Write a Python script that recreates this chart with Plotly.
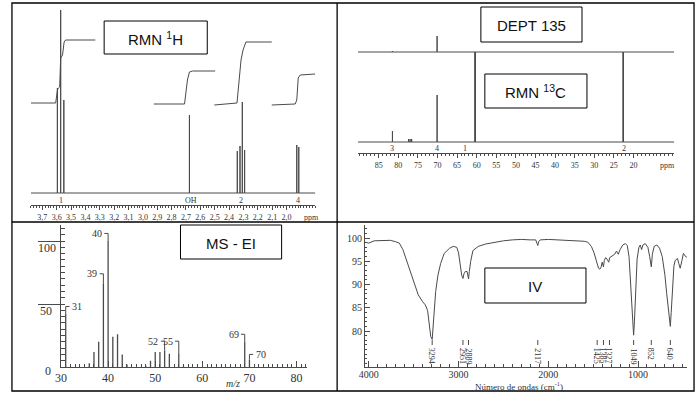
import plotly.graph_objects as go

W, H = 698, 396
SERIF = "Liberation Serif, Times New Roman, serif"
SANS = "Liberation Sans, Arial, sans-serif"
LINE = "#4a4a4a"
TXT = "#333333"

# ---------------- 1H NMR ----------------
h1_peak_ppm = [3.595, 3.572, 3.550, 2.676, 2.343, 2.324, 2.308, 2.292, 1.929, 1.915]
h1_peak_int = [105, 183, 93, 78, 42, 47, 91, 43, 48, 46]
h1_int1_ppm = [3.78, 3.607, 3.593, 3.579, 3.572, 3.559, 3.548, 3.538, 3.331]
h1_int1_val = [90, 90, 104, 106, 135, 138, 151, 153, 153]
h1_int2_ppm = [2.924, 2.710, 2.690, 2.676, 2.655, 2.497]
h1_int2_val = [89, 89, 113, 121, 122, 122]
h1_int3_ppm = [2.503, 2.345, 2.317, 2.303, 2.283, 2.103]
h1_int3_val = [88, 90, 133, 143, 151, 151]
h1_int4_ppm = [2.103, 1.940, 1.929, 1.919, 1.905, 1.802]
h1_int4_val = [88, 89, 93, 115, 118, 119]
h1_labels = ["1", "OH", "2", "4"]
h1_label_ppm = [3.572, 2.667, 2.318, 1.918]
h1_tick_vals = [3.7, 3.6, 3.5, 3.4, 3.3, 3.2, 3.1, 3.0, 2.9, 2.8, 2.7, 2.6, 2.5, 2.4, 2.3, 2.2, 2.1, 2.0]
h1_tick_text = ["3,7", "3,6", "3,5", "3,4", "3,3", "3,2", "3,1", "3,0", "2,9", "2,8",
                "2,7", "2,6", "2,5", "2,4", "2,3", "2,2", "2,1", "2,0"]
h1_range = [3.78, 1.80]

# ---------------- 13C / DEPT ----------------
c13_ppm = [81.5, 77.4, 77.0, 76.6, 70.1, 60.4, 22.6]
c13_int = [11, 3, 3, 3, 47, 90, 90]
dept_ppm = [81.5, 70.1, 60.4, 22.6]
dept_int = [1, 16, -90, -90]
dept_offset = 90
c13_labels = ["3", "4", "1", "2"]
c13_label_ppm = [81.7, 70.1, 63.0, 22.3]
c13_tick_vals = [85, 80, 75, 70, 65, 60, 55, 50, 45, 40, 35, 30, 25, 20]
c13_tick_text = [str(v) for v in c13_tick_vals]
c13_range = [90.3, 9.6]

# ---------------- MS ----------------
ms_mz = [31, 36, 37, 38, 39, 40, 41, 42, 43, 44, 48, 49, 50, 51, 52, 53, 55, 56, 69, 70]
ms_int = [42, 3, 12, 20, 66, 100, 24, 26, 10, 2, 1, 5, 12, 12, 13, 10.5, 11, 1, 20, 6]
ms_lab_mz = [31, 39, 40, 52, 55, 69, 70]
ms_lab_side = ["r", "l", "l", "l", "l", "l", "r"]
ms_lab_top = [48, 74, 106, 20.5, 20.5, 26, 10]
ms_tick_vals = [30, 40, 50, 60, 70, 80]

# ---------------- IR ----------------
ir_wn = [4040, 4000, 3940, 3850, 3760, 3700, 3660, 3620, 3600, 3550, 3500, 3450, 3400, 3370,
         3345, 3325, 3310, 3294, 3285, 3270, 3255, 3230, 3200, 3160, 3100, 3060, 3020, 3000,
         2980, 2965, 2951, 2940, 2925, 2905, 2895, 2889, 2880, 2865, 2840, 2780, 2700, 2600,
         2500, 2400, 2300, 2200, 2140, 2125, 2117, 2108, 2090, 2000, 1900, 1800, 1700, 1600,
         1560, 1520, 1490, 1460, 1440, 1425, 1410, 1400, 1385, 1375, 1360, 1340, 1327, 1315,
         1290, 1260, 1240, 1220, 1200, 1170, 1140, 1120, 1100, 1080, 1060, 1049, 1040, 1025,
         1010, 990, 975, 960, 945, 920, 890, 870, 852, 840, 820, 790, 760, 730, 700, 680, 660,
         645, 640, 630, 615, 600, 585, 560, 545, 530, 510, 494, 485, 470, 456]
ir_T = [99.1, 98.9, 99.4, 99.5, 99.5, 99.2, 98.9, 97.5, 96.3, 93.5, 90.5, 87.8, 86.3, 85.6,
        84.4, 81.5, 78.8, 78.2, 80.5, 85.0, 88.5, 92.0, 94.5, 96.7, 97.8, 98.2, 98.0, 96.8,
        94.0, 92.0, 91.3, 92.3, 92.8, 92.8, 91.8, 91.2, 92.8, 95.0, 97.3, 98.2, 98.7, 99.1,
        99.4, 99.6, 99.7, 99.6, 99.6, 98.8, 98.4, 99.2, 99.6, 99.7, 99.6, 99.6, 99.5, 99.3,
        99.1, 98.2, 96.8, 94.8, 93.5, 93.3, 93.8, 94.8, 93.8, 95.2, 95.8, 95.3, 94.8, 95.8,
        96.2, 96.5, 97.2, 96.5, 97.5, 98.5, 98.8, 98.4, 96.0, 90.0, 82.0, 79.1, 82.0, 90.0,
        95.5, 98.0, 98.5, 97.5, 98.5, 98.8, 98.0, 96.0, 93.8, 96.5, 98.2, 98.5, 97.8, 96.0,
        92.0, 88.0, 84.0, 81.3, 81.0, 84.0, 90.0, 94.0, 95.2, 95.6, 94.5, 93.5, 95.2, 96.7,
        96.5, 96.0, 95.9]
ir_lab = [3294, 2951, 2889, 2117, 1425, 1385, 1327, 1049, 852, 640]
ir_lab_pos = [3294, 2951, 2889, 2117, 1455, 1385, 1318, 1049, 852, 640]
ir_tick_vals = [4000, 3000, 2000, 1000]
ir_ytick_vals = [80, 85, 90, 95, 100]


def fx(p):
    return p / W


def fy(p):
    return 1 - p / H


def stick_path(xs, hs, x0, x1, base=0.0):
    X, Y = [x0], [base]
    for x, h in sorted(zip(xs, hs), key=lambda t: -t[0]):
        X += [x, x, x]
        Y += [base, base + h, base]
    X.append(x1)
    Y.append(base)
    return X, Y


def ptext(txt, xp, yp, size, family=SERIF, color=TXT, **kw):
    d = dict(x=fx(xp), y=fy(yp), xref="paper", yref="paper", text=txt, showarrow=False,
             xanchor="center", yanchor="middle", font=dict(family=family, size=size, color=color))
    d.update(kw)
    return d


fig = go.Figure()
lw = dict(color=LINE, width=1)

# 1H
X, Y = stick_path(h1_peak_ppm, h1_peak_int, h1_range[0], h1_range[1])
fig.add_trace(go.Scatter(x=X, y=Y, mode="lines", line=lw, xaxis="x", yaxis="y", hoverinfo="skip"))
for xs, ys in [(h1_int1_ppm, h1_int1_val), (h1_int2_ppm, h1_int2_val),
               (h1_int3_ppm, h1_int3_val), (h1_int4_ppm, h1_int4_val)]:
    fig.add_trace(go.Scatter(x=xs, y=ys, mode="lines", line=lw, xaxis="x", yaxis="y", hoverinfo="skip"))

# 13C + DEPT
X, Y = stick_path(c13_ppm, c13_int, c13_range[0], c13_range[1])
fig.add_trace(go.Scatter(x=X, y=Y, mode="lines", line=lw, xaxis="x2", yaxis="y2", hoverinfo="skip"))
X, Y = stick_path(dept_ppm, dept_int, c13_range[0], c13_range[1], base=dept_offset)
fig.add_trace(go.Scatter(x=X, y=Y, mode="lines", line=lw, xaxis="x2", yaxis="y2", hoverinfo="skip"))

# MS sticks
mx, my = [], []
for m, i in zip(ms_mz, ms_int):
    mx += [m, m, None]
    my += [0, i, None]
fig.add_trace(go.Scatter(x=mx, y=my, mode="lines", line=dict(color=LINE, width=1.3),
                         xaxis="x3", yaxis="y3", hoverinfo="skip"))
# MS label brackets
bx, by = [], []
ms_peak = dict(zip(ms_mz, ms_int))
annotations = []
for m, side, top in zip(ms_lab_mz, ms_lab_side, ms_lab_top):
    d = 0.8 if side == "r" else -0.8
    bx += [m, m, m + d, None]
    by += [ms_peak[m], top, top, None]
    annotations.append(dict(x=m + d * 1.1, y=top, xref="x3", yref="y3", text=str(m),
                            showarrow=False, xanchor="left" if side == "r" else "right",
                            yanchor="middle", font=dict(family=SERIF, size=10, color=TXT)))
fig.add_trace(go.Scatter(x=bx, y=by, mode="lines", line=dict(color=LINE, width=1),
                         xaxis="x3", yaxis="y3", hoverinfo="skip"))

# IR
fig.add_trace(go.Scatter(x=ir_wn, y=ir_T, mode="lines", line=dict(color=LINE, width=1),
                         xaxis="x4", yaxis="y4", hoverinfo="skip"))

shapes = []
# IR labels
for lab, pos in zip(ir_lab, ir_lab_pos):
    shapes.append(dict(type="line", xref="x4", yref="paper", x0=pos, x1=pos,
                       y0=fy(340), y1=fy(345), line=dict(color=LINE, width=1)))
    annotations.append(dict(x=pos, y=fy(346), xref="x4", yref="paper", text=str(lab),
                            showarrow=False, textangle=90, xanchor="center", yanchor="top",
                            font=dict(family=SERIF, size=8, color=TXT)))

# NMR peak labels
for lab, p in zip(h1_labels, h1_label_ppm):
    annotations.append(dict(x=p, y=fy(200), xref="x", yref="paper", text=lab, showarrow=False,
                            xanchor="center", yanchor="middle",
                            font=dict(family=SERIF, size=8, color=TXT)))
for lab, p in zip(c13_labels, c13_label_ppm):
    annotations.append(dict(x=p, y=fy(148), xref="x2", yref="paper", text=lab, showarrow=False,
                            xanchor="center", yanchor="middle",
                            font=dict(family=SERIF, size=8, color=TXT)))
annotations.append(ptext("ppm", 308, 217, 8))
annotations.append(ptext("ppm", 667, 165, 8))
# MS axis labels
for txt, xp, yp in [("100", 41, 248), ("50", 40, 311), ("0", 42, 371)]:
    annotations.append(ptext(txt, xp, yp, 12))
annotations.append(ptext("<i>m/z</i>", 229, 383, 10))
annotations.append(ptext("Número de ondas (cm<sup>-1</sup>)", 517, 386, 9))

# Title boxes
boxes = [("RMN <sup>1</sup>H", 99, 21, 203, 54), ("DEPT 135", 479, 7, 581, 42),
         ("RMN <sup>13</sup>C", 483, 74, 586, 108), ("MS - EI", 176, 225, 278, 259),
         ("IV", 483, 268, 585, 303)]
for txt, x0, y0, x1, y1 in boxes:
    shapes.append(dict(type="rect", xref="paper", yref="paper", x0=fx(x0), x1=fx(x1),
                       y0=fy(y1), y1=fy(y0), line=dict(color="black", width=1),
                       fillcolor="white", layer="above"))
    annotations.append(ptext(txt, (x0 + x1) / 2, (y0 + y1) / 2 + 1, 15, family=SANS,
                             color="#111111"))

# Panel borders
bl = dict(color="black", width=1.3)
shapes.append(dict(type="rect", xref="paper", yref="paper", x0=fx(6), x1=fx(694),
                   y0=fy(391), y1=fy(3), line=bl))
shapes.append(dict(type="line", xref="paper", yref="paper", x0=fx(334), x1=fx(334),
                   y0=fy(391), y1=fy(3), line=bl))
shapes.append(dict(type="line", xref="paper", yref="paper", x0=fx(6), x1=fx(694),
                   y0=fy(222), y1=fy(222), line=bl))

ax_common = dict(showgrid=False, zeroline=False, showline=True, linecolor=LINE, linewidth=1,
                 tickcolor=LINE)

fig.update_layout(
    width=W, height=H, margin=dict(l=0, r=0, t=0, b=0),
    paper_bgcolor="white", plot_bgcolor="white", showlegend=False,
    xaxis=dict(domain=[fx(25), fx(312)], range=h1_range, anchor="y", tickmode="array",
               tickvals=h1_tick_vals, ticktext=h1_tick_text, ticks="outside", ticklen=4,
               tickfont=dict(family=SERIF, size=8, color=TXT),
               minor=dict(tickmode="linear", tick0=2.0, dtick=0.02, ticks="outside", ticklen=2,
                          tickcolor=LINE), **ax_common),
    yaxis=dict(domain=[fy(205), fy(8)], range=[-12, 185], visible=False),
    xaxis2=dict(domain=[fx(355), fx(674)], range=c13_range, anchor="y2", tickmode="array",
                tickvals=c13_tick_vals, ticktext=c13_tick_text, ticks="outside", ticklen=4,
                tickfont=dict(family=SERIF, size=8, color=TXT),
                minor=dict(tickmode="linear", tick0=0, dtick=1, ticks="outside", ticklen=2,
                           tickcolor=LINE), **ax_common),
    yaxis2=dict(domain=[fy(153), fy(8)], range=[-11, 134], visible=False),
    xaxis3=dict(domain=[fx(55), fx(304)], range=[29.9, 82.3], anchor="y3", tickmode="array",
                tickvals=ms_tick_vals, ticks="inside", ticklen=6,
                tickfont=dict(family=SERIF, size=12, color=TXT),
                minor=dict(tickmode="linear", tick0=0, dtick=1, ticks="inside", ticklen=3,
                           tickcolor=LINE), **ax_common),
    yaxis3=dict(domain=[fy(367), fy(225)], range=[0, 112.7], anchor="x3", tickmode="array",
                tickvals=[50, 100], ticks="outside", ticklen=22, showticklabels=False,
                minor=dict(tickmode="linear", tick0=0, dtick=5, ticks="inside", ticklen=4,
                           tickcolor=LINE), **ax_common),
    xaxis4=dict(domain=[fx(362), fx(687)], range=[4044, 453], anchor="y4", tickmode="array",
                tickvals=ir_tick_vals, ticks="inside", ticklen=6, ticklabelstandoff=-2,
                tickfont=dict(family=SERIF, size=10, color=TXT),
                minor=dict(tickmode="linear", tick0=0, dtick=100, ticks="inside", ticklen=3,
                           tickcolor=LINE), **ax_common),
    yaxis4=dict(domain=[fy(367), fy(225)], range=[72.26, 102.8], anchor="x4", tickmode="array",
                tickvals=ir_ytick_vals, ticks="inside", ticklen=5,
                tickfont=dict(family=SERIF, size=10, color=TXT),
                minor=dict(tickmode="linear", tick0=0, dtick=1, ticks="inside", ticklen=2,
                           tickcolor=LINE), **ax_common),
    shapes=shapes, annotations=annotations,
)

fig.write_html("out.html", config={"displayModeBar": False},
               post_script="document.body.style.margin='0px';"
                           "document.body.style.overflow='hidden';")
